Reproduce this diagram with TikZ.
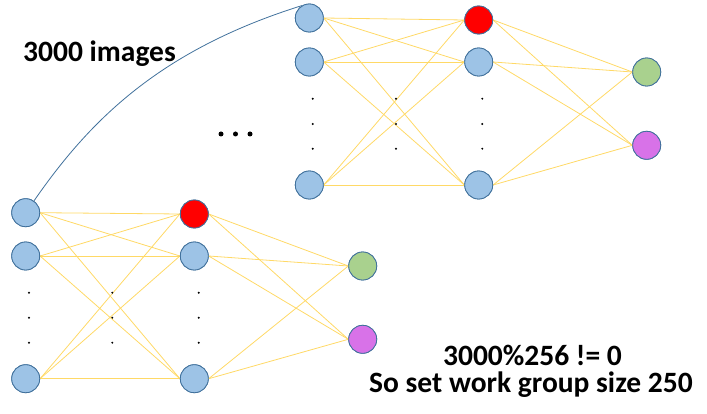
\documentclass[tikz,border=0pt]{standalone}
\usepackage{fontspec}
\setmainfont{Carlito}
\begin{document}
\begin{tikzpicture}[x=1pt,y=-1pt,
  neuron/.style={circle,minimum size=28pt,inner sep=0pt,draw=edgeblue,line width=0.8pt},
  inp/.style={neuron,fill=nodeblue},
  hot/.style={neuron,fill=red},
  outg/.style={neuron,fill=nodegreen},
  outp/.style={neuron,fill=nodepurple},
  link/.style={draw=linkyellow,line width=0.8pt},
  dotm/.style={circle,fill=black,inner sep=0pt,minimum size=2.2pt},
  bigdot/.style={circle,fill=black,inner sep=0pt,minimum size=5pt},
  lbl/.style={font=\bfseries\fontsize{29.5}{32}\selectfont,inner sep=0pt}
]
\definecolor{nodeblue}{HTML}{9DC3E6}
\definecolor{edgeblue}{HTML}{41719C}
\definecolor{nodegreen}{HTML}{A9D18E}
\definecolor{nodepurple}{HTML}{D872E8}
\definecolor{linkyellow}{HTML}{FFD966}
\useasboundingbox (0,0) rectangle (707,414);
% bottom network
\node[inp] (a1) at (25.7,212.7) {};
\node[inp] (a2) at (25.7,256) {};
\node[inp] (a3) at (25.7,378.7) {};
\node[hot] (b1) at (194.3,214) {};
\node[inp] (b2) at (194.3,256) {};
\node[inp] (b3) at (194.3,378.7) {};
\node[outg] (c1) at (362.7,266) {};
\node[outp] (c2) at (362.7,339.3) {};
% top network
\node[inp] (A1) at (309.3,18) {};
\node[inp] (A2) at (309.3,62) {};
\node[inp] (A3) at (309.3,185) {};
\node[hot] (B1) at (478.7,20) {};
\node[inp] (B2) at (478.7,62) {};
\node[inp] (B3) at (478.7,185) {};
\node[outg] (C1) at (646.7,72) {};
\node[outp] (C2) at (646.7,145.3) {};
% links
\foreach \q in {1,2,3}{
  \foreach \r in {1,2,3}{
    \draw[link] (a\q.east) -- (b\r.west);
    \draw[link] (A\q.east) -- (B\r.west);
  }
  \foreach \r in {1,2}{
    \draw[link] (b\q.east) -- (c\r.west);
    \draw[link] (B\q.east) -- (C\r.west);
  }
}
% redraw nodes on top
\node[inp] at (a1) {};
\node[inp] at (a2) {};
\node[inp] at (a3) {};
\node[hot] at (b1) {};
\node[inp] at (b2) {};
\node[inp] at (b3) {};
\node[outg] at (c1) {};
\node[outp] at (c2) {};
\node[inp] at (A1) {};
\node[inp] at (A2) {};
\node[inp] at (A3) {};
\node[hot] at (B1) {};
\node[inp] at (B2) {};
\node[inp] at (B3) {};
\node[outg] at (C1) {};
\node[outp] at (C2) {};
% vertical dots
\foreach \x in {29,112.3,198.7}{
  \foreach \y [count=\i] in {292.7,317.7,342.7}{
    \node[dotm] (d\i) at (\x,\y) {};
  }
}
\foreach \x in {312.7,396,482.3}{
  \foreach \y [count=\i] in {98.7,124,148.7}{
    \node[dotm] (D\i) at (\x,\y) {};
  }
}
% ellipsis
\node[bigdot] (e1) at (221,134) {};
\node[bigdot] (e2) at (235.5,134) {};
\node[bigdot] (e3) at (250,134) {};
% curve
\draw[edgeblue,line width=0.8pt] (a1.55) .. controls (90,120) and (160,50) .. (A1.120);
% labels
\node[lbl,anchor=base west] (t1) at (23,62) {3000 images};
\node[lbl,anchor=base] (t2) at (532.5,365) {3000\%256 != 0};
\node[lbl,anchor=base] (t3) at (531,392) {So set work group size 250};
\end{tikzpicture}
\end{document}
